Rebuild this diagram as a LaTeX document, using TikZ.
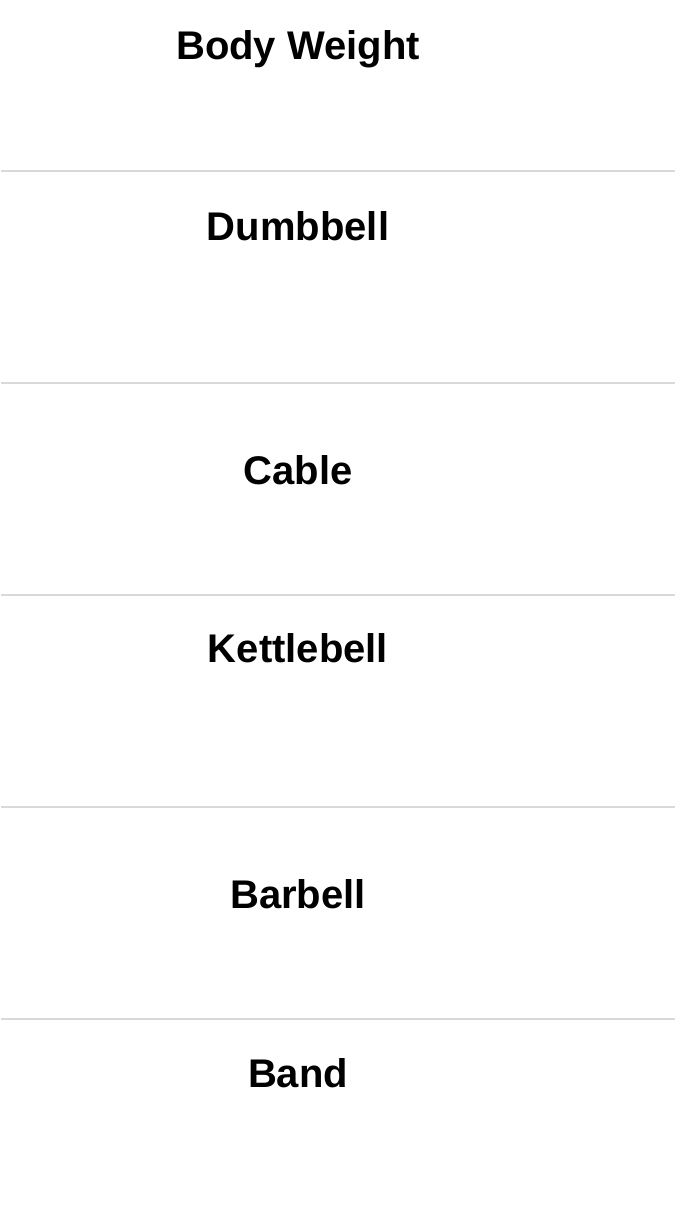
\documentclass[tikz,border=0pt]{standalone}
\usepackage{fontspec}
\setmainfont{Liberation Sans}
\usepackage{tikz}
\definecolor{rulegray}{HTML}{D9D9D9}
\tikzset{
  kind/.style={anchor=base, inner sep=0pt, font=\fontsize{40}{46}\selectfont\bfseries},
  rowline/.style={draw=rulegray, line width=1.5pt}
}

\begin{document}
\begin{tikzpicture}[x=1pt,y=-1pt]
\useasboundingbox (0,0) rectangle (675,1229);
\node[kind] (bw) at (298,59) {Body Weight};
\node[kind] (db) at (298,240) {Dumbbell};
\node[kind] (cb) at (298,484) {Cable};
\node[kind] (kb) at (298,662) {Kettlebell};
\node[kind] (bb) at (298,908) {Barbell};
\node[kind] (bd) at (298,1087) {Band};
\foreach \y in {171,383,595,807,1019}
  \draw[rowline] (1,\y) -- (675,\y);
\end{tikzpicture}
\end{document}
